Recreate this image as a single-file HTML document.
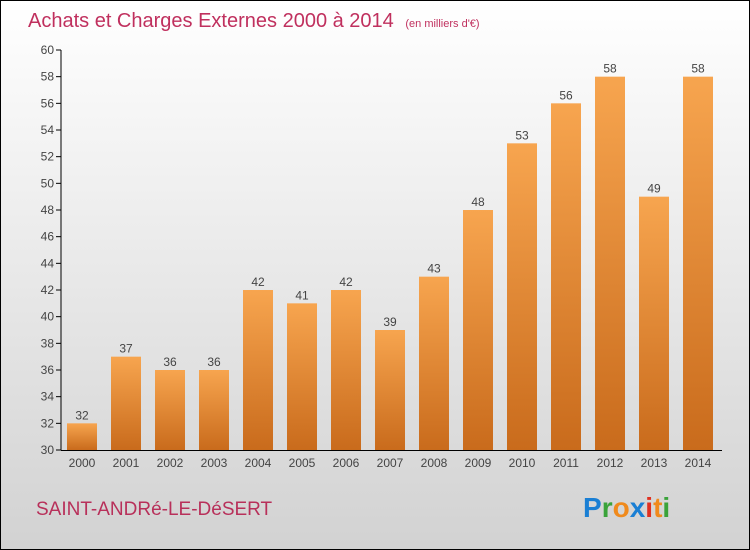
<!DOCTYPE html>
<html><head><meta charset="utf-8"><style>
body{margin:0}
#c{position:relative;width:748px;height:548px;border:1px solid #000;background:linear-gradient(#ffffff,#d2d2d2);font-family:"Liberation Sans",sans-serif;overflow:hidden}
</style></head><body>
<div id="c">
<svg width="748" height="548" id="s">
<defs><linearGradient id="g" x1="0" y1="0" x2="0" y2="1"><stop offset="0" stop-color="#f7a54f"/><stop offset="1" stop-color="#c96b1c"/></linearGradient></defs>
<text x="27" y="26" font-size="20" fill="#c0305e">Achats et Charges Externes 2000 à 2014 <tspan font-size="11" dx="6">(en milliers d'€)</tspan></text>
<text x="35" y="514" font-size="19" fill="#b8305a">SAINT-ANDRé-LE-DéSERT</text>
<text x="582" y="516" font-size="28" font-weight="bold"><tspan fill="#1a7fd4">P</tspan><tspan fill="#3aa33a">r</tspan><tspan fill="#f08a1c">o</tspan><tspan fill="#1a7fd4">x</tspan><tspan fill="#e03020">i</tspan><tspan fill="#f08a1c">t</tspan><tspan fill="#3aa33a">i</tspan></text>
</svg>
</div>
<script>
const years=["2000","2001","2002","2003","2004","2005","2006","2007","2008","2009","2010","2011","2012","2013","2014"];
const values=[32,37,36,36,42,41,42,39,43,48,53,56,58,49,58];
const yTicks=[30,32,34,36,38,40,42,44,46,48,50,52,54,56,58,60];
const s=document.getElementById('s'),NS='http://www.w3.org/2000/svg';
const y0=449,y1=49,vmin=30,vmax=60;
const Y=v=>y0-(v-vmin)/(vmax-vmin)*(y0-y1);
const X=i=>81+i*44;
function mk(t,a){const e=document.createElementNS(NS,t);for(const k in a)e.setAttribute(k,a[k]);s.appendChild(e);return e;}
yTicks.forEach(v=>{
 const l=mk('line',{x1:55,x2:60,y1:Y(v),y2:Y(v),stroke:'#000'});
 
 
 const t=mk('text',{x:53,y:Y(v)+4,'font-size':12,'text-anchor':'end',fill:'#444'});t.textContent=v;
 
 
});
values.forEach((v,i)=>{
 const r=mk('rect',{x:X(i)-15,y:Y(v),width:30,height:y0-Y(v),fill:'url(#g)'});
 
 
 const t=mk('text',{x:X(i),y:Y(v)-4,'font-size':12,'text-anchor':'middle',fill:'#444'});t.textContent=v;
 
 
 const xl=mk('text',{x:X(i),y:466,'font-size':12,'text-anchor':'middle',fill:'#444'});xl.textContent=years[i];
 
 
});
const ya=mk('line',{x1:60,x2:60,y1:y1,y2:y0,stroke:'#000'});


const xa=mk('line',{x1:60,x2:721,y1:y0+0.5,y2:y0+0.5,stroke:'#000'});


</script>
</body></html>
